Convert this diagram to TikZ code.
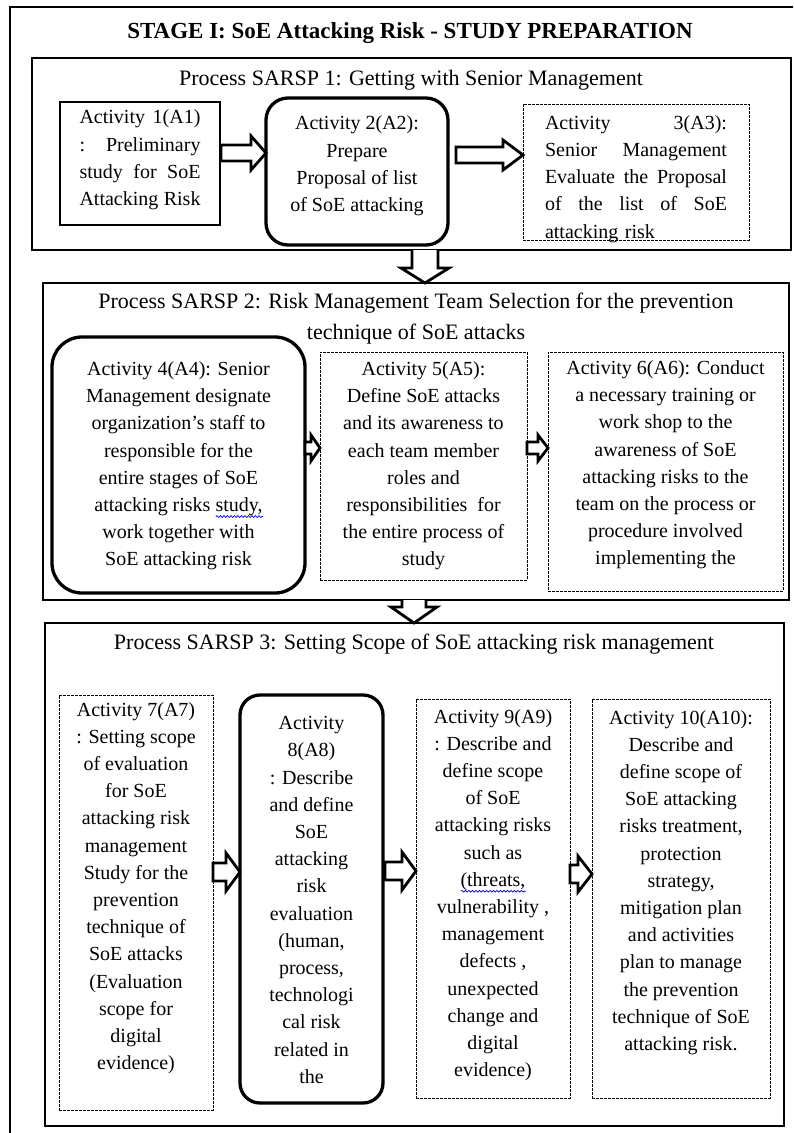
\documentclass[tikz,border=0pt]{standalone}
\usepackage{fontspec}
\setmainfont{Liberation Serif}
\usetikzlibrary{calc,decorations.pathmorphing}

% blue spell-check style wavy underline under a word
\newsavebox\spellbox
\newcommand\spellwave[1]{\sbox\spellbox{#1}\leavevmode\rlap{\tikz[baseline=0pt,x=1pt,y=1pt]\draw[blue!85!black, line width=0.7pt, decorate, decoration={snake, amplitude=0.9pt, segment length=3.5pt}] (0pt,-5pt) -- (\wd\spellbox,-5pt);}\usebox\spellbox}
% a line of text whose spaces stretch to a given width (justified)
\newcommand\jline[2]{\makebox[#1][s]{\spaceskip=0pt\xspaceskip=0pt #2}}

% horizontal block arrow: from, to, y, start gap, shaft half, head half, head length
\newcommand\harrow[7]{%
  \coordinate (hab) at (#1.east |- 0,#3);
  \coordinate (has) at ([xshift=#4]hab);
  \coordinate (hat) at (#2.west |- 0,#3);
  \draw[blockarrow] ([yshift=#5]has) -- ([xshift=-#7,yshift=#5]hat) -- ([xshift=-#7,yshift=#6]hat) -- (hat)
    -- ([xshift=-#7,yshift=-#6]hat) -- ([xshift=-#7,yshift=-#5]hat) -- ([yshift=-#5]has) -- cycle;}
% vertical block arrow (open at its top): from, to, x, shaft half, head half, head length
\newcommand\varrow[6]{%
  \coordinate (vas) at (#3,0 |- #1.south);
  \coordinate (vat) at (#3,0 |- #2.north);
  \draw[blockarrow] ([xshift=-#4]vas) -- ([xshift=-#4,yshift=#6]vat) -- ([xshift=-#5,yshift=#6]vat) -- (vat)
    -- ([xshift=#5,yshift=#6]vat) -- ([xshift=#4,yshift=#6]vat) -- ([xshift=#4]vas);}

\tikzset{
  frame/.style={draw, line width=1.5pt},
  procbox/.style={draw, line width=1.5pt, rectangle, inner sep=0pt, outer sep=0pt},
  plainbox/.style={draw, line width=1.1pt, rectangle, inner sep=0pt, outer sep=0pt},
  roundbox/.style={draw, line width=3.3pt, rectangle, inner sep=0pt, outer sep=0pt},
  dashbox/.style={draw, line width=0.9pt, dash pattern=on 2.6pt off 1.4pt, rectangle, inner sep=0pt, outer sep=0pt},
  boxsize/.style n args={2}{minimum width=#1pt, minimum height=#2pt},
  body/.style={font=\fontsize{20}{27.2}\selectfont, align=center, inner sep=0pt},
  justbody/.style={font=\fontsize{20}{27.2}\selectfont, align=left, inner sep=0pt, text width=#1pt},
  proctitle/.style={font=\fontsize{22}{30.5}\selectfont, align=center, inner sep=0pt},
  stagetitle/.style={font=\fontsize{23}{28}\selectfont\bfseries, inner sep=0pt},
  blockarrow/.style={draw, line width=2.8pt, fill=white, line join=miter}
}

\begin{document}
\begin{tikzpicture}[x=1pt, y=-1pt]
\useasboundingbox (0,0) rectangle (793,1133);

% outer frame, running past the page edges on the right and bottom
\begin{scope}
  \clip (0,0) rectangle (793,1133);
  \draw[frame] (10,7) rectangle (830,1170);
\end{scope}

\node[stagetitle] (stage) at (410,33) {STAGE I: SoE Attacking Risk - STUDY PREPARATION};

% ---------------- Process SARSP 1 ----------------
\node[procbox, boxsize={759}{192}] (p1) at (411.5,154) {};
\node[proctitle] (p1t) at (411,80) {Process SARSP 1: Getting with Senior Management};

\node[plainbox, boxsize={160}{123}] (a1) at (140,163.5) {};
\node[justbody=121] (a1t) at (140,160) {\jline{121pt}{Activity 1(A1)}\\\jline{121pt}{: Preliminary}\\\jline{121pt}{study for SoE}\\\jline{121pt}{Attacking Risk}};

\node[roundbox, rounded corners=22pt, boxsize={182}{147}] (a2) at (357,171.5) {};
\node[body] (a2t) at (357,166) {Activity 2(A2):\\Prepare\\Proposal of list\\of SoE attacking};

\node[dashbox, boxsize={226}{136}] (a3) at (636,172) {};
\node[justbody=182] (a3t) at (636,179) {\jline{182pt}{Activity 3(A3):}\\\jline{182pt}{Senior Management}\\\jline{182pt}{Evaluate the Proposal}\\\jline{182pt}{of the list of SoE}\\attacking risk};

\harrow{a1}{a2}{153}{1pt}{8pt}{17pt}{15pt}
\harrow{a2}{a3}{155}{8pt}{8pt}{15pt}{20pt}

% ---------------- Process SARSP 2 ----------------
\node[procbox, boxsize={746}{317}] (p2) at (416,441.5) {};
\node[proctitle] (p2t) at (416,318.5) {Process SARSP 2: Risk Management Team Selection for the prevention\\technique of SoE attacks};

\varrow{p1}{p2}{425}{13pt}{24pt}{15pt}

\node[roundbox, rounded corners=30pt, boxsize={253}{256}] (a4) at (178.5,465) {};
\node[body] (a4t) at (178.5,466) {Activity 4(A4): Senior\\Management designate\\organization’s staff to\\responsible for the\\entire stages of SoE\\attacking risks \spellwave{study,}\\work together with\\SoE attacking risk};

\node[dashbox, boxsize={207}{228}] (a5) at (423.5,466) {};
\node[body] (a5t) at (423.5,466) {Activity 5(A5):\\Define SoE attacks\\and its awareness to\\each team member\\roles and\\responsibilities\ \ for\\the entire process of\\study};

\node[dashbox, boxsize={235}{239}] (a6) at (665.5,471.5) {};
\node[body] (a6t) at (665.5,465) {Activity 6(A6): Conduct\\a necessary training or\\work shop to the\\awareness of SoE\\attacking risks to the\\team on the process or\\procedure involved\\implementing the};

\harrow{a4}{a5}{448}{0pt}{6pt}{13pt}{9pt}
\harrow{a5}{a6}{448}{0pt}{6pt}{13pt}{10pt}

% ---------------- Process SARSP 3 ----------------
\node[procbox, boxsize={739}{503}] (p3) at (414.5,874.5) {};
\node[proctitle] (p3t) at (414,644) {Process SARSP 3: Setting Scope of SoE attacking risk management};

\varrow{p2}{p3}{414}{12pt}{23pt}{16pt}

\node[dashbox, boxsize={154}{415}] (a7) at (136,902.5) {};
\node[body] (a7t) at (136,888) {Activity 7(A7)\\: Setting scope\\of evaluation\\for SoE\\attacking risk\\management\\Study for the\\prevention\\technique of\\SoE attacks\\(Evaluation\\scope for\\digital\\evidence)};

\node[roundbox, rounded corners=20pt, boxsize={143}{408}] (a8) at (311.5,899) {};
\node[body] (a8t) at (311.5,900) {Activity\\8(A8)\\: Describe\\and define\\SoE\\attacking\\risk\\evaluation\\(human,\\process,\\technologi\\cal risk\\related in\\the};

\node[dashbox, boxsize={154}{399}] (a9) at (493,898.5) {};
\node[body] (a9t) at (493,895) {Activity 9(A9)\\: Describe and\\define scope\\of SoE\\attacking risks\\such as\\\spellwave{(threats,}\\vulnerability ,\\management\\defects ,\\unexpected\\change and\\digital\\evidence)};

\node[dashbox, boxsize={178}{399}] (a10) at (681,898.5) {};
\node[body] (a10t) at (681,882.5) {Activity 10(A10):\\Describe and\\define scope of\\SoE attacking\\risks treatment,\\protection\\strategy,\\mitigation plan\\and activities\\plan to manage\\the prevention\\technique of SoE\\attacking risk.};

\harrow{a7}{a8}{872}{0pt}{9pt}{19pt}{14pt}
\harrow{a8}{a9}{871}{2pt}{9pt}{19pt}{14pt}
\harrow{a9}{a10}{874}{0pt}{9pt}{18pt}{14pt}

\end{tikzpicture}
\end{document}
